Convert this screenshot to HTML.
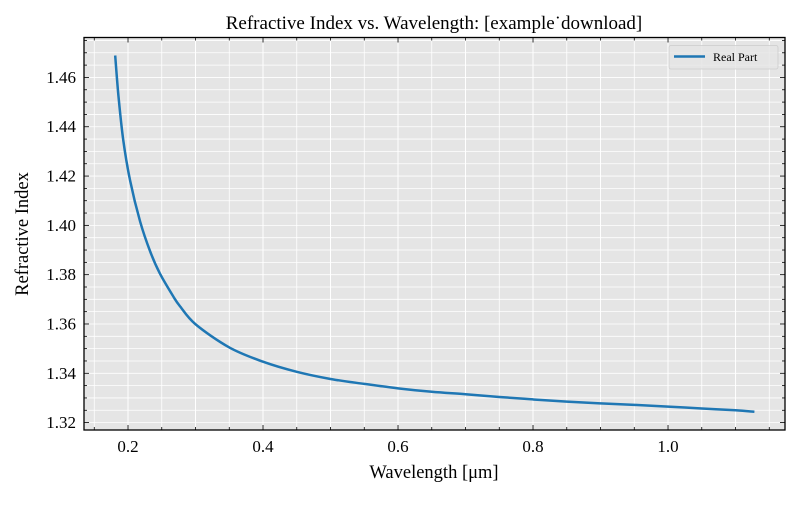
<!DOCTYPE html>
<html><head><meta charset="utf-8"><style>
body{margin:0;background:#fff}
svg text{font-family:"Liberation Serif","DejaVu Serif",serif;fill:#000}
</style></head><body>
<svg id="chart" width="800" height="500" xmlns="http://www.w3.org/2000/svg"></svg>
<script>
const wavelengths=[0.181,0.186,0.193,0.203,0.218,0.233,0.247,0.267,0.277,0.3,0.35,0.4,0.45,0.5,0.55,0.6,0.65,0.7,0.75,0.8,0.85,0.9,0.95,1.0,1.05,1.1,1.128];
const realPart=[1.4689,1.452,1.4345,1.4183,1.4015,1.3893,1.3806,1.3712,1.3672,1.3599,1.3505,1.3447,1.3406,1.3377,1.3357,1.3339,1.3325,1.3315,1.3304,1.3294,1.3285,1.3278,1.3272,1.3265,1.3257,1.325,1.3244];
const xTicks=[0.2,0.4,0.6,0.8,1.0];
const yTicks=[1.32,1.34,1.36,1.38,1.40,1.42,1.44,1.46];
const L=84,R=785,T=37.5,B=430;
const xMin=0.1348,xMax=1.1733,yMin=1.317,yMax=1.4762;
const sx=v=>L+(v-xMin)/(xMax-xMin)*(R-L);
const sy=v=>B-(v-yMin)/(yMax-yMin)*(B-T);
const svg=document.getElementById('chart');
const NS='http://www.w3.org/2000/svg';
function mk(tag,attrs,parent){const e=document.createElementNS(NS,tag);for(const k in attrs)e.setAttribute(k,attrs[k]);(parent||svg).appendChild(e);return e;}
const bg=mk('rect',{x:L,y:T,width:R-L,height:B-T,fill:'#e5e5e5'});


const grid=mk('g',{stroke:'#fff'});


for(let i=3;i*0.05<xMax;i++){const v=i*0.05;if(v<xMin)continue;const x=sx(v);mk('line',{x1:x,x2:x,y1:T,y2:B,'stroke-width':i%2?0.8:1},grid);}
for(let i=0;;i++){const v=1.315+i*0.005;if(v>yMax)break;if(v<yMin)continue;const y=sy(v);mk('line',{x1:L,x2:R,y1:y,y2:y,'stroke-width':0.8},grid);}
const tk=mk('g',{stroke:'#000','stroke-width':0.8});


for(let i=3;i*0.05<xMax;i++){const v=i*0.05;const x=sx(v);const len=(i%4===0)?5:3;mk('line',{x1:x,x2:x,y1:B,y2:B-len},tk);mk('line',{x1:x,x2:x,y1:T,y2:T+len},tk);}
for(let i=0;;i++){const v=1.315+i*0.005;if(v>yMax)break;if(v<yMin)continue;const y=sy(v);const len=(i%4===1)?5:3;mk('line',{x1:L,x2:L+len,y1:y,y2:y},tk);mk('line',{x1:R,x2:R-len,y1:y,y2:y},tk);}
xTicks.forEach(v=>{const t=mk('text',{x:sx(v),y:B+22,'text-anchor':'middle','font-size':17});t.textContent=v.toFixed(1);

});
yTicks.forEach(v=>{const t=mk('text',{x:L-8,y:sy(v)+5.5,'text-anchor':'end','font-size':17});t.textContent=v.toFixed(2);

});
const P=wavelengths.map((w,i)=>[sx(w),sy(realPart[i])]);
let d='M'+P[0][0]+','+P[0][1];
for(let i=0;i<P.length-1;i++){const p0=P[Math.max(i-1,0)],p1=P[i],p2=P[i+1],p3=P[Math.min(i+2,P.length-1)];
const c1=[p1[0]+(p2[0]-p0[0])/6,p1[1]+(p2[1]-p0[1])/6],c2=[p2[0]-(p3[0]-p1[0])/6,p2[1]-(p3[1]-p1[1])/6];
d+=' C'+c1[0]+','+c1[1]+' '+c2[0]+','+c2[1]+' '+p2[0]+','+p2[1];}
const line=mk('path',{d:d,fill:'none',stroke:'#1f77b4','stroke-width':2.5,'stroke-linejoin':'round'});


const fr=mk('rect',{x:L,y:T,width:R-L,height:B-T,fill:'none',stroke:'#000','stroke-width':1.3});


</script>
<svg style="position:absolute;left:0;top:0" width="800" height="500" xmlns="http://www.w3.org/2000/svg">
<text x="434" y="29" text-anchor="middle" font-size="19">Refractive Index vs. Wavelength: [example˙download]</text>
<text x="434" y="478" text-anchor="middle" font-size="18.5">Wavelength [μm]</text>
<text transform="translate(28,234) rotate(-90)" text-anchor="middle" font-size="18.5">Refractive Index</text>
<g>
<rect x="669" y="45.5" width="109" height="23.5" rx="2" fill="#e5e5e5" stroke="#ccc" stroke-width="0.8" fill-opacity="0.8"/>
<line x1="674" x2="705" y1="56.5" y2="56.5" stroke="#1f77b4" stroke-width="2.5"/>
<text x="713" y="61" font-size="12">Real Part</text>
</g>
</svg>
</body></html>
